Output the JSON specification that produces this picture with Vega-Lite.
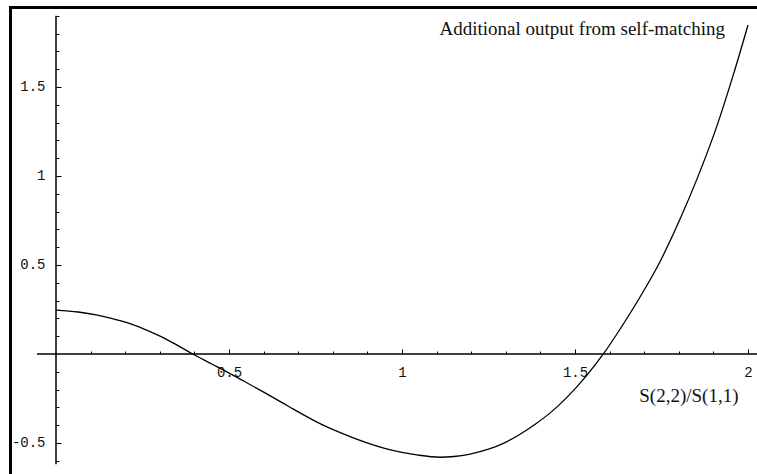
{
  "$schema": "https://vega.github.io/schema/vega-lite/v6.json",
  "width": 747,
  "height": 467,
  "padding": {"left": 10, "top": 7, "right": 0, "bottom": 0},
  "autosize": {"type": "none"},
  "background": "white",
  "config": {"view": {"stroke": null}},
  "title": {
    "text": "Additional output from self-matching",
    "anchor": "end",
    "frame": "group",
    "orient": "top",
    "offset": -47,
    "dx": -32,
    "baseline": "alphabetic",
    "font": "Liberation Serif",
    "fontSize": 19,
    "fontWeight": "normal",
    "color": "#111111"
  },
  "layer": [
    {
      "data": {"values": [{}]},
      "mark": {"type": "rule", "color": "black", "strokeWidth": 1.5},
      "encoding": {
        "x": {
          "datum": 0,
          "type": "quantitative",
          "scale": {"domain": [-0.13295, 2.02601], "nice": false, "zero": false},
          "axis": {"orient": "top", "domain": true, "domainColor": "black", "domainWidth": 3, "domainCap": "square", "ticks": false, "labels": false, "grid": false, "title": null}
        },
        "y": {
          "datum": -0.62,
          "type": "quantitative",
          "scale": {"domain": [-0.6742, 1.9494], "nice": false, "zero": false},
          "axis": {"orient": "left", "domain": true, "domainColor": "black", "domainWidth": 3, "domainCap": "square", "ticks": false, "labels": false, "grid": false, "title": null}
        },
        "y2": {"datum": 1.9}
      }
    },
    {
      "data": {"values": [{}]},
      "mark": {"type": "rule", "color": "black", "strokeWidth": 1.5},
      "encoding": {
        "y": {
          "datum": 0,
          "type": "quantitative",
          "scale": {"domain": [-0.6742, 1.9494], "nice": false, "zero": false},
          "axis": null
        },
        "x": {
          "datum": -0.055,
          "type": "quantitative",
          "scale": {"domain": [-0.13295, 2.02601], "nice": false, "zero": false},
          "axis": null
        },
        "x2": {"datum": 2.026}
      }
    },
    {
      "data": {
        "values": [
          {"x": 0.000, "y": 0.247},
          {"x": 0.064, "y": 0.236},
          {"x": 0.120, "y": 0.218},
          {"x": 0.160, "y": 0.200},
          {"x": 0.214, "y": 0.170},
          {"x": 0.260, "y": 0.136},
          {"x": 0.310, "y": 0.092},
          {"x": 0.350, "y": 0.050},
          {"x": 0.395, "y": 0.000},
          {"x": 0.450, "y": -0.056},
          {"x": 0.503, "y": -0.110},
          {"x": 0.550, "y": -0.160},
          {"x": 0.599, "y": -0.213},
          {"x": 0.656, "y": -0.276},
          {"x": 0.686, "y": -0.310},
          {"x": 0.772, "y": -0.400},
          {"x": 0.850, "y": -0.464},
          {"x": 0.899, "y": -0.499},
          {"x": 0.950, "y": -0.530},
          {"x": 1.000, "y": -0.553},
          {"x": 1.043, "y": -0.567},
          {"x": 1.110, "y": -0.580},
          {"x": 1.150, "y": -0.576},
          {"x": 1.197, "y": -0.562},
          {"x": 1.250, "y": -0.535},
          {"x": 1.293, "y": -0.502},
          {"x": 1.340, "y": -0.452},
          {"x": 1.389, "y": -0.389},
          {"x": 1.430, "y": -0.328},
          {"x": 1.476, "y": -0.245},
          {"x": 1.534, "y": -0.120},
          {"x": 1.582, "y": 0.000},
          {"x": 1.630, "y": 0.139},
          {"x": 1.688, "y": 0.320},
          {"x": 1.746, "y": 0.520},
          {"x": 1.803, "y": 0.755},
          {"x": 1.855, "y": 0.995},
          {"x": 1.910, "y": 1.280},
          {"x": 1.957, "y": 1.565},
          {"x": 2.000, "y": 1.848}
        ]
      },
      "mark": {"type": "line", "color": "black", "strokeWidth": 1.3, "interpolate": "monotone"},
      "encoding": {
        "x": {
          "field": "x",
          "type": "quantitative",
          "scale": {"domain": [-0.13295, 2.02601], "nice": false, "zero": false},
          "axis": {
            "orient": "bottom",
            "offset": -120,
            "domain": false,
            "grid": false,
            "values": [0.1, 0.2, 0.3, 0.4, 0.5, 0.6, 0.7, 0.8, 0.9, 1, 1.1, 1.2, 1.3, 1.4, 1.5, 1.6, 1.7, 1.8, 1.9, 2],
            "tickSize": {"condition": {"test": "abs(datum.value*2 - round(datum.value*2)) < 0.001", "value": -5}, "value": -3},
            "tickColor": "black",
            "tickWidth": 1,
            "labelExpr": "abs(datum.value*2 - round(datum.value*2)) < 0.001 ? toString(datum.value) : ''",
            "labelFont": "Liberation Mono",
            "labelFontSize": 14,
            "labelColor": "#111111",
            "labelPadding": 16,
            "labelFlush": false,
            "labelOverlap": false,
            "title": "S(2,2)/S(1,1)",
            "titleFont": "Liberation Serif",
            "titleFontSize": 19,
            "titleFontWeight": "normal",
            "titleColor": "#111111",
            "titleX": 728,
            "titleY": 47,
            "titleAlign": "right",
            "titleBaseline": "alphabetic"
          }
        },
        "y": {
          "field": "y",
          "type": "quantitative",
          "scale": {"domain": [-0.6742, 1.9494], "nice": false, "zero": false},
          "axis": {
            "orient": "left",
            "offset": -46,
            "domain": false,
            "grid": false,
            "values": [-0.6, -0.5, -0.4, -0.3, -0.2, -0.1, 0.1, 0.2, 0.3, 0.4, 0.5, 0.6, 0.7, 0.8, 0.9, 1, 1.1, 1.2, 1.3, 1.4, 1.5, 1.6, 1.7, 1.8, 1.9],
            "tickSize": {"condition": {"test": "abs(datum.value*2 - round(datum.value*2)) < 0.001", "value": -5}, "value": -3},
            "tickColor": "black",
            "tickWidth": 1,
            "labelExpr": "abs(datum.value*2 - round(datum.value*2)) < 0.001 ? toString(datum.value) : ''",
            "labelFont": "Liberation Mono",
            "labelFontSize": 14,
            "labelColor": "#111111",
            "labelPadding": 16,
            "labelOverlap": false,
            "labelFlush": false,
            "title": null
          }
        }
      }
    }
  ],
  "resolve": {"axis": {"x": "independent", "y": "independent"}}
}
